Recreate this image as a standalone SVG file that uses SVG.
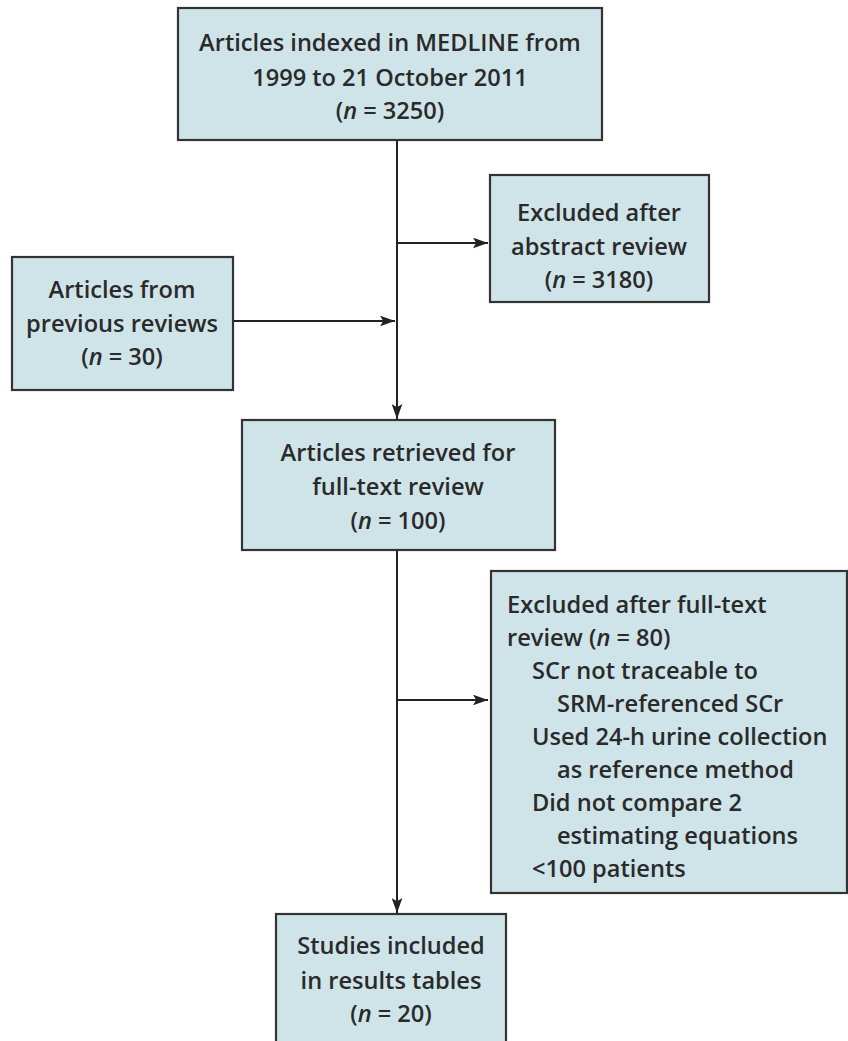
<svg xmlns="http://www.w3.org/2000/svg" width="848" height="1041" viewBox="0 0 848 1041">
<defs>
<marker id="ah" viewBox="0 0 14 10" refX="14" refY="5" markerWidth="15" markerHeight="11" markerUnits="userSpaceOnUse" orient="auto">
<path d="M0,0 L14,5 L0,10 L3,5 Z" fill="#222"/>
</marker>
<style>
.box{fill:#cfe4e9;stroke:#333;stroke-width:2.2}
.t{font-family:"Open Sans","Noto Sans",sans-serif;font-weight:600;font-size:23.6px;fill:#2a2a2a}
.c{text-anchor:middle}
.ln{stroke:#222;stroke-width:2;fill:none}
</style>
</defs>
<rect width="848" height="1041" fill="#fff"/>
<g id="connectors">
<line class="ln" x1="397" y1="140" x2="397" y2="419" marker-end="url(#ah)"/>
<line class="ln" x1="397" y1="243" x2="488" y2="243" marker-end="url(#ah)"/>
<line class="ln" x1="233" y1="321" x2="395" y2="321" marker-end="url(#ah)"/>
<line class="ln" x1="397" y1="550" x2="397" y2="913" marker-end="url(#ah)"/>
<line class="ln" x1="397" y1="700" x2="488" y2="700" marker-end="url(#ah)"/>
</g>
<g id="n1">
<rect class="box" x="178" y="8" width="424" height="132"/>
<text class="t c" x="390" y="51">Articles indexed in MEDLINE from</text>
<text class="t c" x="390" y="86">1999 to 21 October 2011</text>
<text class="t c" x="390" y="119">(<tspan font-style="italic">n</tspan> = 3250)</text>
</g>
<g id="n2">
<rect class="box" x="490" y="175" width="219" height="127"/>
<text class="t c" x="599" y="221">Excluded after</text>
<text class="t c" x="599" y="255">abstract review</text>
<text class="t c" x="599" y="288">(<tspan font-style="italic">n</tspan> = 3180)</text>
</g>
<g id="n3">
<rect class="box" x="12" y="257" width="221" height="133"/>
<text class="t c" x="122" y="298">Articles from</text>
<text class="t c" x="122" y="332">previous reviews</text>
<text class="t c" x="122" y="365">(<tspan font-style="italic">n</tspan> = 30)</text>
</g>
<g id="n4">
<rect class="box" x="242" y="420" width="313" height="130"/>
<text class="t c" x="398" y="461">Articles retrieved for</text>
<text class="t c" x="398" y="495">full-text review</text>
<text class="t c" x="398" y="529">(<tspan font-style="italic">n</tspan> = 100)</text>
</g>
<g id="n5">
<rect class="box" x="491" y="571" width="356" height="322"/>
<text class="t" x="507" y="613">Excluded after full-text</text>
<text class="t" x="507" y="646">review (<tspan font-style="italic">n</tspan> = 80)</text>
<text class="t" x="532" y="679">SCr not traceable to</text>
<text class="t" x="557" y="712">SRM-referenced SCr</text>
<text class="t" x="532" y="745">Used 24-h urine collection</text>
<text class="t" x="557" y="778">as reference method</text>
<text class="t" x="532" y="811">Did not compare 2</text>
<text class="t" x="557" y="844">estimating equations</text>
<text class="t" x="532" y="877">&lt;100 patients</text>
</g>
<g id="n6">
<rect class="box" x="276" y="914" width="230" height="140"/>
<text class="t c" x="391" y="954">Studies included</text>
<text class="t c" x="391" y="989">in results tables</text>
<text class="t c" x="391" y="1022">(<tspan font-style="italic">n</tspan> = 20)</text>
</g>
</svg>
